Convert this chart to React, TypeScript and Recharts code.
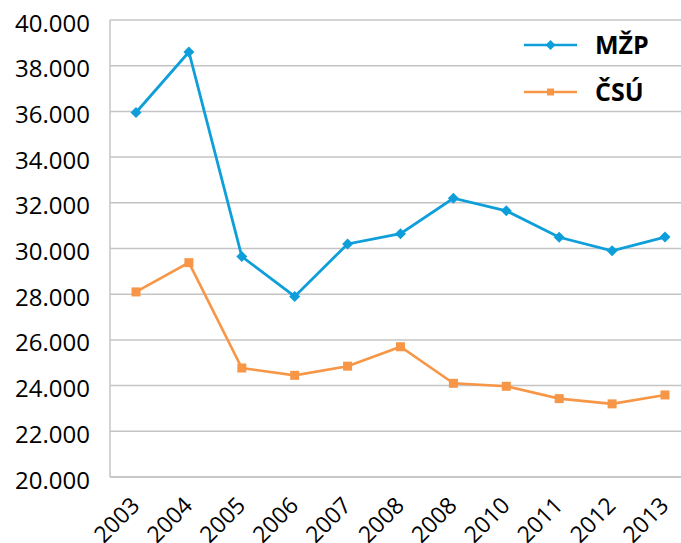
import { LineChart, Line, XAxis, YAxis, CartesianGrid } from 'recharts'

const years = ['2003', '2004', '2005', '2006', '2007', '2008', '2008', '2010', '2011', '2012', '2013']
const mzp = [35950, 38600, 29650, 27900, 30200, 30650, 32200, 31650, 30490, 29900, 30500]
const csu = [28100, 29380, 24770, 24450, 24850, 25700, 24100, 23970, 23430, 23200, 23590]
const yTicks = [20000, 22000, 24000, 26000, 28000, 30000, 32000, 34000, 36000, 38000, 40000]

const data = years.map((year, i) => ({ key: i, year, mzp: mzp[i], csu: csu[i] }))

const BLUE = '#0e9fdb'
const ORANGE = '#f79646'
const GRID = '#c4c4c4'
const FONT = '"Open Sans", "Noto Sans", sans-serif'

const fmt = (v: number) => (v / 1000).toFixed(3)

function Diamond(props: any) {
  const { cx, cy } = props
  if (cx == null || cy == null) return null
  const r = 5.5
  return <path d={`M${cx},${cy - r}L${cx + r},${cy}L${cx},${cy + r}L${cx - r},${cy}Z`} fill={BLUE} />
}

function Square(props: any) {
  const { cx, cy } = props
  if (cx == null || cy == null) return null
  return <rect x={cx - 4.5} y={cy - 4.5} width={9} height={9} fill={ORANGE} />
}

function YearTick(props: any) {
  const { x, y, payload } = props
  return (
    <text
      x={0}
      y={0}
      transform={`translate(${x + 5},${y + 30}) rotate(-45)`}
      textAnchor="end"
      fontSize={23}
      fontFamily={FONT}
      fill="#000"
    >
      {years[payload.value]}
    </text>
  )
}

const legendItems = [
  { name: 'MŽP', color: BLUE, mark: 'diamond' },
  { name: 'ČSÚ', color: ORANGE, mark: 'square' },
]

function LegendBox() {
  return (
    <div style={{ position: 'absolute', left: 524, top: 21, zIndex: 2 }}>
      {legendItems.map((it) => (
        <div key={it.name} style={{ display: 'flex', alignItems: 'center', height: 47 }}>
          <svg width={71} height={20}>
            <line x1={0} y1={10} x2={53} y2={10} stroke={it.color} strokeWidth={2.5} />
            {it.mark === 'diamond' ? (
              <path d="M26.5,5L31.5,10L26.5,15L21.5,10Z" fill={it.color} />
            ) : (
              <rect x={23} y={6.5} width={7} height={7} fill={it.color} />
            )}
          </svg>
          <span style={{ fontFamily: FONT, fontWeight: 700, fontSize: 25, color: '#000', lineHeight: 1 }}>
            {it.name}
          </span>
        </div>
      ))}
    </div>
  )
}

export default function App() {
  return (
    <div style={{ position: 'absolute', left: 0, top: 0, width: 681, height: 543, overflow: 'hidden', background: '#fff' }}>
      <LineChart width={700} height={543} data={data} margin={{ top: 20, right: 9, bottom: 0, left: 0 }}>
        <CartesianGrid vertical={false} stroke={GRID} strokeWidth={1.5} />
        <XAxis
          dataKey="key"
          type="category"
          interval={0}
          height={66}
          padding={{ left: 26, right: 26 }}
          tickLine={false}
          tickSize={0}
          tickMargin={0}
          axisLine={{ stroke: GRID, strokeWidth: 1.5 }}
          tick={<YearTick />}
        />
        <YAxis
          domain={[20000, 40000]}
          ticks={yTicks}
          width={110}
          tickFormatter={fmt}
          tickLine={false}
          tickSize={0}
          tickMargin={20}
          axisLine={{ stroke: GRID, strokeWidth: 1.5 }}
          tick={{ fontSize: 24, fontFamily: FONT, fill: '#000', dy: 3 }}
          interval={0}
        />
        <Line
          dataKey="mzp"
          name="MŽP"
          stroke={BLUE}
          strokeWidth={2.8}
          dot={<Diamond />}
          activeDot={false}
          isAnimationActive={false}
        />
        <Line
          dataKey="csu"
          name="ČSÚ"
          stroke={ORANGE}
          strokeWidth={2.6}
          dot={<Square />}
          activeDot={false}
          isAnimationActive={false}
        />
      </LineChart>
      <LegendBox />
    </div>
  )
}
